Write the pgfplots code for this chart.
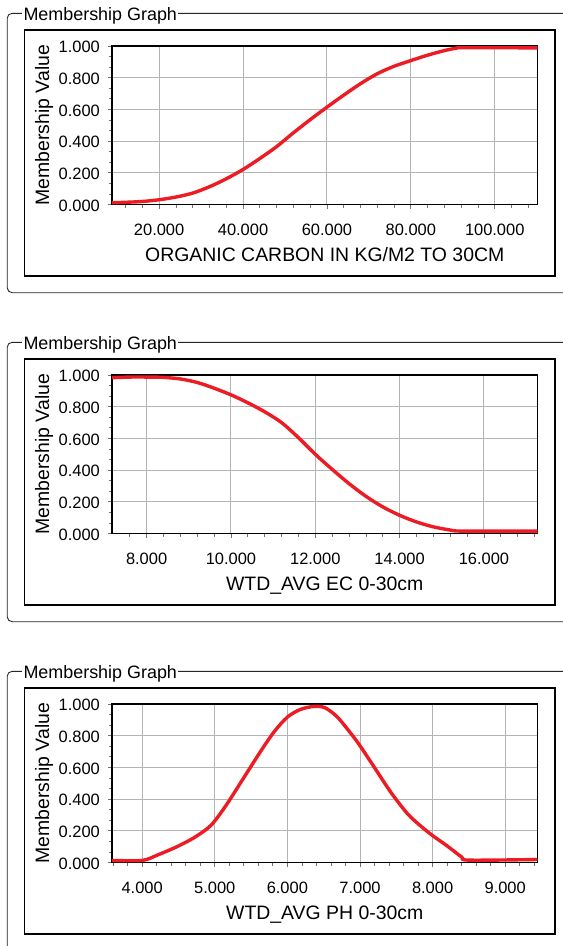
\documentclass[border=0pt]{standalone}
\usepackage{fontspec}
\setmainfont{Liberation Sans}
\usepackage{pgfplots}
\pgfplotsset{compat=1.18}
\definecolor{curve}{RGB}{237,28,36}
\definecolor{gridc}{RGB}{180,180,180}
\pgfplotsset{
  mg/.style={
    scale only axis, width=425.5bp, height=158.5bp, anchor=north west,
    ymin=0, ymax=1,
    ytick={0,0.2,0.4,0.6,0.8,1},
    minor y tick num=2,
    grid=major, major grid style={gridc, line width=0.9bp},
    axis line style={line width=1.5bp, black},
    tick align=outside, tick pos=left,
    major tick length=4bp, minor tick length=3bp,
    tick style={line width=0.7bp, black!55},
    /pgf/number format/fixed,
    /pgf/number format/fixed zerofill,
    /pgf/number format/precision=3,
    /pgf/number format/assume math mode=true,
    tick label style={font=\fontsize{16.5}{18}\selectfont, inner sep=0pt},
    xticklabel style={anchor=base, yshift=-27.2bp},
    yticklabel style={anchor=east, xshift=-8bp, yshift=-1.2bp},
    label style={font=\fontsize{19.5}{22}\selectfont, inner sep=0pt},
    xlabel style={at={(axis description cs:0.5,-0.361)}, anchor=base},
    ylabel style={at={(axis description cs:-0.1476,0.5)}, anchor=base},
    ylabel={Membership Value},
  },
  cv/.style={curve, line width=3.4bp, smooth, tension=0.5},
}
\newcommand{\panelframe}[1]{%
  \draw[line width=0.9bp, black!85, rounded corners=5bp] (7.2bp,{-13.3bp-#1}) rectangle (620bp,{-292.7bp-#1});
  \node[fill=white, inner xsep=1.5bp, inner ysep=0pt, anchor=base west, font=\fontsize{18}{20}\selectfont] at (21.8bp,{-20.7bp-#1}) {Membership Graph};
  \draw[line width=1.4bp, fill=white] (24.4bp,{-30bp-#1}) rectangle (554.8bp,{-276bp-#1});
}
\begin{document}
\begin{tikzpicture}
\clip (0,0) rectangle (563bp,-946bp);
\fill[white] (0,0) rectangle (563bp,-946bp);
% ---------- panel 1
\panelframe{0bp}
\begin{axis}[mg, at={(112bp,-46bp)},
  xmin=8.77, xmax=110.2,
  xtick={20,40,60,80,100},
  minor xtick={12,16,24,28,32,36,44,48,52,56,64,68,72,76,84,88,92,96,104,108},
  xlabel={ORGANIC CARBON IN KG/M2 TO 30CM}]
\addplot[cv] coordinates {
(8.77,0.011) (12,0.014) (16,0.019) (20,0.03) (24,0.047) (28,0.072)
(32,0.112) (36,0.162) (40,0.221) (44,0.29) (48,0.365) (52,0.452)
(56,0.535) (60,0.614) (64,0.69) (68,0.762) (72,0.825) (76,0.872)
(80,0.908) (84,0.942) (88,0.971) (91,0.987) (93,0.99) (110.2,0.988)};
\end{axis}
% ---------- panel 2
\panelframe{329bp}
\begin{axis}[mg, at={(112bp,-375bp)},
  xmin=7.18, xmax=17.27,
  xtick={8,10,12,14,16},
  minor xtick={7.6,8.4,8.8,9.2,9.6,10.4,10.8,11.2,11.6,12.4,12.8,13.2,13.6,14.4,14.8,15.2,15.6,16.4,16.8,17.2},
  xlabel={WTD\_AVG EC 0-30cm}]
\addplot[cv] coordinates {
(7.18,0.983) (7.6,0.987) (8,0.987) (8.4,0.985) (8.8,0.975) (9.2,0.953)
(9.6,0.917) (10,0.875) (10.4,0.825) (10.8,0.768) (11.2,0.70) (11.6,0.605)
(12,0.50) (12.4,0.405) (12.8,0.315) (13.2,0.235) (13.6,0.168) (14,0.115)
(14.4,0.073) (14.8,0.042) (15.2,0.022) (15.5,0.015) (17.27,0.015)};
\end{axis}
% ---------- panel 3
\panelframe{658bp}
\begin{axis}[mg, at={(112bp,-704bp)},
  xmin=3.585, xmax=9.445,
  xtick={4,5,6,7,8,9},
  minor xtick={3.6,3.8,4.2,4.4,4.6,4.8,5.2,5.4,5.6,5.8,6.2,6.4,6.6,6.8,7.2,7.4,7.6,7.8,8.2,8.4,8.6,8.8,9.2,9.4},
  xlabel={WTD\_AVG PH 0-30cm}]
\addplot[cv] coordinates {
(3.585,0.013) (4,0.013) (4.21,0.047) (4.48,0.1) (4.71,0.155) (4.9,0.215)
(5,0.262) (5.17,0.37) (5.4,0.535) (5.63,0.7) (5.82,0.826) (6,0.917)
(6.18,0.966) (6.37,0.985) (6.52,0.976) (6.69,0.917) (6.88,0.811) (7,0.737)
(7.2,0.599) (7.43,0.44) (7.66,0.305) (7.85,0.225) (8,0.17) (8.2,0.105)
(8.4,0.035) (8.5,0.015) (9.445,0.019)};
\end{axis}
\end{tikzpicture}
\end{document}
